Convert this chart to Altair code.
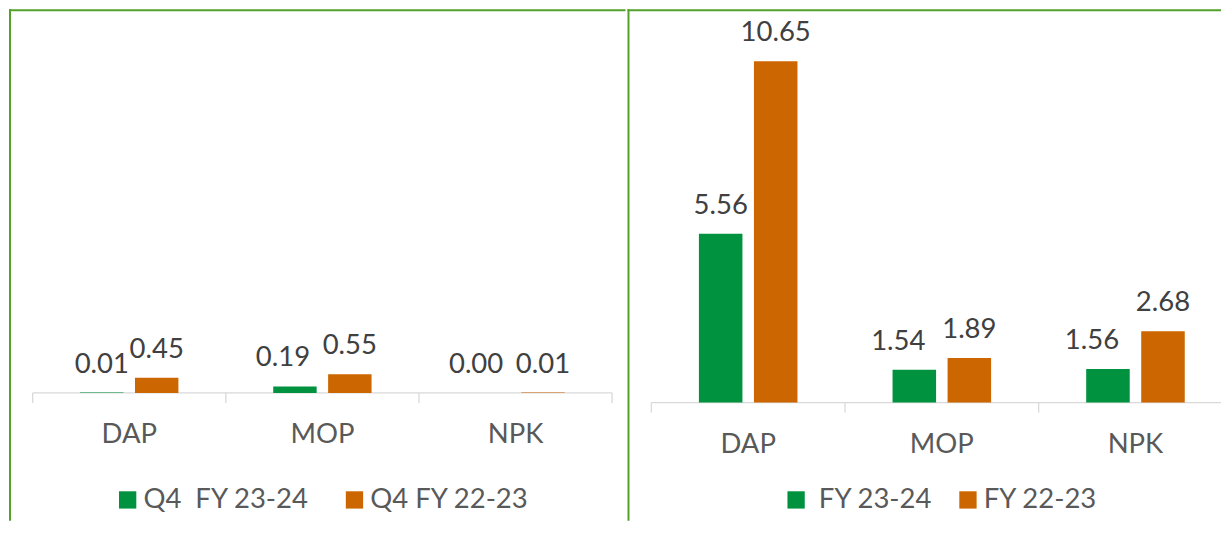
import altair as alt
import pandas as pd

categories = ["DAP", "MOP", "NPK"]

left_series = ["Q4\u00a0 FY 23-24", "Q4 FY 22-23"]
left_current = [0.01, 0.19, 0.00]
left_previous = [0.45, 0.55, 0.01]

right_series = ["\u200b\u00a0FY 23-24", "FY 22-23"]
right_current = [5.56, 1.54, 1.56]
right_previous = [10.65, 1.89, 2.68]

GREEN = "#00923F"
ORANGE = "#CC6600"
FRAME = "#52A12B"
AXIS = "#D9D9D9"
FONT = "Lato"
H = 512


def panel(series, cur, prev, width, y_domain, x_range, base, legend_x, legend_y,
          col_pad, end_tick, nudge):
    df = pd.DataFrame({
        "cat": categories * 2,
        "series": [series[0]] * 3 + [series[1]] * 3,
        "value": cur + prev,
    })
    cats = pd.DataFrame({"cat": categories})
    one = pd.DataFrame({"k": [0]})

    xs = alt.Scale(range=x_range, paddingInner=0, paddingOuter=0)
    x = alt.X("cat:N", sort=categories, scale=xs, axis=None)
    xoff = alt.XOffset("series:N", sort=series,
                       scale=alt.Scale(domain=series, paddingInner=0.209, paddingOuter=0.864))
    ys = alt.Scale(domain=y_domain, nice=False, zero=False)

    bars = alt.Chart(df).mark_bar().encode(
        x=x,
        xOffset=xoff,
        y=alt.Y("value:Q", scale=ys, axis=None),
        y2=alt.Y2Datum(base),
        color=alt.Color("series:N", sort=series,
                        scale=alt.Scale(domain=series, range=[GREEN, ORANGE]),
                        legend=alt.Legend(
                            orient="none", legendX=legend_x, legendY=legend_y,
                            direction="horizontal", columns=2, title=None,
                            symbolType="square", symbolSize=300, symbolStrokeWidth=0,
                            labelFont=FONT, labelFontSize=27.5, labelColor="#595959",
                            labelOffset=2, columnPadding=col_pad, padding=0,
                            labelLimit=0)),
    )
    nudged = (alt.datum.series == series[0]) & (alt.datum.cat != categories[0])

    def value_layer(flt, dx):
        return alt.Chart(df).transform_filter(flt).mark_text(
            baseline="alphabetic", dy=-20, dx=dx, font=FONT,
            fontSize=27.5, color="#404040").encode(
            x=x,
            xOffset=xoff,
            y=alt.Y("value:Q", scale=ys, axis=None),
            text=alt.Text("value:Q", format=".2f"),
        )

    vals_a = value_layer(~nudged, 0)
    vals_b = value_layer(nudged, nudge)

    axis_line = alt.Chart(one).mark_rule(color=AXIS, strokeWidth=1.3).encode(
        x=alt.value(x_range[0]), x2=alt.value(min(x_range[1], width)),
        y=alt.YDatum(base, axis=None),
    )
    ticks = alt.Chart(cats).mark_rule(color=AXIS, strokeWidth=1.3, y2Offset=10).encode(
        x=alt.X("cat:N", sort=categories, scale=xs, axis=None, bandPosition=0),
        y=alt.YDatum(base, axis=None),
        y2=alt.Y2Datum(base),
    )
    layers = [axis_line, ticks]
    if end_tick:
        last = alt.Chart(pd.DataFrame({"cat": [categories[-1]]})).mark_rule(
            color=AXIS, strokeWidth=1.3, y2Offset=10).encode(
            x=alt.X("cat:N", sort=categories, scale=xs, axis=None, bandPosition=1),
            y=alt.YDatum(base, axis=None),
            y2=alt.Y2Datum(base),
        )
        layers.append(last)
    cat_labels = alt.Chart(cats).mark_text(baseline="alphabetic", dy=50.5, font=FONT,
                                           fontSize=27.5, color="#595959").encode(
        x=x,
        y=alt.YDatum(base, axis=None),
        text="cat:N",
    )
    top_line = alt.Chart(one).mark_rule(color=FRAME, strokeWidth=2).encode(
        x=alt.value(0), x2=alt.value(width), y=alt.value(1))
    left_line = alt.Chart(one).mark_rule(color=FRAME, strokeWidth=2).encode(
        x=alt.value(1), y=alt.value(0), y2=alt.value(H))
    return alt.layer(*layers, bars, vals_a, vals_b, cat_labels, top_line, left_line).properties(
        width=width, height=H)


left = panel(left_series, left_current, left_previous, 617,
             [-(H - 384) / 33.9, 384 / 33.9], [23.7, 603.6], 0,
             105, 477, 31, True, -12)
right = panel(right_series, right_current, right_previous, 594,
              [-(H - 413) / 33.88, 413 / 33.88], [23.9, 605.3], 0.57,
              155, 477, 21, False, -16)

chart = alt.hconcat(left, right, spacing=0).resolve_scale(
    color="independent", x="independent", y="independent", xOffset="independent"
).properties(padding=0).configure(
    font=FONT, view=alt.ViewConfig(stroke="transparent", strokeWidth=0)
)

chart.save("out.html", embed_options={"renderer": "svg", "actions": False})
